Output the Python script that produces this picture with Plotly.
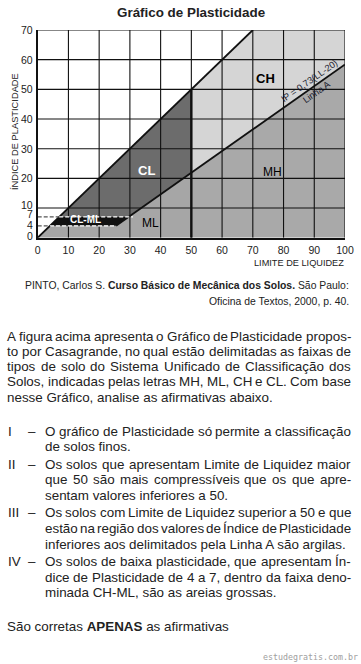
import plotly.graph_objects as go

W, H = 361, 664
FONT = "Liberation Sans, Arial, Helvetica, sans-serif"

# ---------------- data ----------------
ll_ticks = [0, 10, 20, 30, 40, 50, 60, 70, 80, 90, 100]
ip_ticks = [0, 4, 7, 10, 20, 30, 40, 50, 60, 70]
grid_ll = [10, 20, 30, 40, 50, 60, 70, 80, 90, 100]
grid_ip = [10, 20, 30, 40, 50, 60, 70]

# region polygons (LL, IP)
ch_ll = [50, 50, 70, 100, 100]
ch_ip = [21.9, 50, 70, 70, 58.4]
cl_ll = [7, 50, 50, 29.6]
cl_ip = [7, 50, 21.9, 7]
clml_ll = [4, 7, 29.6, 25.5]
clml_ip = [4, 7, 7, 4]
ml_ll = [0, 4, 25.5, 50, 50]
ml_ip = [0, 4, 4, 21.9, 0]
mh_ll = [50, 50, 100, 100]
mh_ip = [0, 21.9, 58.4, 0]

u_ll = [0, 70]
u_ip = [0, 70]
a_ll = [25.5, 100]
a_ip = [4, 58.4]
ll50_ll = [50, 50]
ll50_ip = [0, 50]

dash4_ll = [0, 4]
dash7_ll = [0, 7]
dash4w_ll = [4, 25.5]
dash7w_ll = [7, 31]

region_labels = [
    ("CH", 74.0, 53.5, "black", True, 13),
    ("MH", 76.5, 22.2, "black", False, 12),
    ("CL", 35.5, 22.8, "white", True, 13),
    ("ML", 36.8, 4.9, "black", False, 12),
    ("CL-ML", 15.7, 6.0, "white", True, 10),
]

title = "Gráfico de Plasticidade"
x_title = "LIMITE DE LIQUIDEZ"
y_title = "ÍNDICE DE PLASTICIDADE"
aline_text = "IP = 0,73(LL-20)"
aline_name = "Linha A"

citation = [
    "PINTO, Carlos S. <b>Curso Básico de Mecânica dos Solos.</b> São Paulo:",
    "Oficina de Textos, 2000, p. 40.",
]
paragraph = [
    "A figura acima apresenta o Gráfico de Plasticidade propos-",
    "to por Casagrande, no qual estão delimitadas as faixas de",
    "tipos de solo do Sistema Unificado de Classificação dos",
    "Solos, indicadas pelas letras MH, ML, CH e CL. Com base",
    "nesse Gráfico, analise as afirmativas abaixo.",
]
items = [
    ("I", ["O gráfico de Plasticidade só permite a classificação",
           "de solos finos."]),
    ("II", ["Os solos que apresentam Limite de Liquidez maior",
            "que 50 são mais compressíveis que os que apre-",
            "sentam valores inferiores a 50."]),
    ("III", ["Os solos com Limite de Liquidez superior a 50 e que",
             "estão na região dos valores de Índice de Plasticidade",
             "inferiores aos delimitados pela Linha A são argilas."]),
    ("IV", ["Os solos de baixa plasticidade, que apresentam Ín-",
            "dice de Plasticidade de 4 a 7, dentro da faixa deno-",
            "minada CH-ML, são as areias grossas."]),
]
closing = "São corretas <b>APENAS</b> as afirmativas"
watermark = "estudegratis.com.br"

# ---------------- layout constants (pixels) ----------------
PX0, PX1 = 37.7, 345.0
PY0, PY1 = 237.7, 30.0
BODY = 13.4
TEXT_L, ITEM_L, TEXT_R = 7, 45, 351
YLABEL_SHIFT = {0: 1.5, 4: 0.8, 7: 3.4, 10: 3.0}   # pixel nudges of crowded labels

# Arial / Liberation Sans advance widths (1/1000 em)
_AW = {' ': 278, ',': 278, '.': 278, '-': 333, ':': 278, '(': 333, ')': 333, '=': 584}
for c in '0123456789':
    _AW[c] = 556
_AW.update(dict(zip('ABCDEFGHIJKLMNOPQRSTUVWXYZ',
                    [667, 667, 722, 722, 667, 611, 778, 722, 278, 500, 667, 556, 833,
                     722, 778, 667, 778, 722, 667, 611, 722, 667, 944, 667, 667, 611])))
_AW.update(dict(zip('abcdefghijklmnopqrstuvwxyz',
                    [556, 556, 500, 556, 556, 278, 556, 556, 222, 222, 500, 222, 833,
                     556, 556, 556, 556, 333, 500, 278, 556, 500, 722, 500, 500, 500])))
_ACC = {'á': 'a', 'ã': 'a', 'â': 'a', 'à': 'a', 'é': 'e', 'ê': 'e', 'í': 'i', 'ó': 'o',
        'õ': 'o', 'ô': 'o', 'ú': 'u', 'ç': 'c', 'Í': 'I', 'Á': 'A', 'É': 'E'}


def text_width(s, size):
    return sum(_AW.get(_ACC.get(c, c), 556) for c in s) * size / 1000.0


def px(x):
    return x / W


def py(y):
    return 1 - y / H


fig = go.Figure()


def poly(xs, ys, color):
    fig.add_trace(go.Scatter(x=xs + xs[:1], y=ys + ys[:1], mode="lines", fill="toself",
                             fillcolor=color, line=dict(width=0), hoverinfo="skip",
                             showlegend=False))


poly(ch_ll, ch_ip, "#d5d5d5")
poly(mh_ll, mh_ip, "#a9a9a9")
poly(ml_ll, ml_ip, "#a6a6a6")
poly(cl_ll, cl_ip, "#6c6c6c")
poly(clml_ll, clml_ip, "#111111")

# grid lines
gx, gy = [], []
for v in grid_ll:
    gx += [v, v, None]
    gy += [0, 70, None]
for v in grid_ip:
    gx += [0, 100, None]
    gy += [v, v, None]
fig.add_trace(go.Scatter(x=gx, y=gy, mode="lines", line=dict(color="#111111", width=1.1),
                         hoverinfo="skip", showlegend=False))


def line(xs, ys, color, width, dash="solid"):
    fig.add_trace(go.Scatter(x=xs, y=ys, mode="lines",
                             line=dict(color=color, width=width, dash=dash),
                             hoverinfo="skip", showlegend=False))


line(u_ll, u_ip, "#111111", 1.8)
line(a_ll, a_ip, "#111111", 1.8)
line(ll50_ll, ll50_ip, "#111111", 2.4)
line(dash4_ll, [4, 4], "#555555", 1.2, "4px,2px")
line(dash7_ll, [7, 7], "#555555", 1.2, "4px,2px")
line(dash4w_ll, [4, 4], "#ffffff", 1.2, "4px,2px")
line(dash7w_ll, [7, 7], "#ffffff", 1.2, "4px,2px")

ann = []


def A(**kw):
    kw.setdefault("showarrow", False)
    kw.setdefault("borderpad", 0)
    kw.setdefault("borderwidth", 0)
    kw.setdefault("xanchor", "center")
    kw.setdefault("yanchor", "middle")
    ann.append(kw)


# y tick labels (placed on the y scale, crowded low ones nudged apart)
for v in ip_ticks:
    A(x=px(33.3), y=v, xref="paper", yref="y", text=str(v), xanchor="right",
      yshift=YLABEL_SHIFT.get(v, 0), font=dict(family=FONT, size=10.5, color="#222"))

for txt, x, y, col, bold, size in region_labels:
    A(x=x, y=y, xref="x", yref="y", text=f"<b>{txt}</b>" if bold else txt,
      font=dict(family=FONT, size=size, color=col))
A(x=88.4, y=52.9, xref="x", yref="y", text=aline_text, textangle=-35,
  font=dict(family=FONT, size=9.2, color="#1a1a2e"))
A(x=90.8, y=49.2, xref="x", yref="y", text=aline_name, textangle=-35,
  font=dict(family=FONT, size=9.2, color="#1a1a2e"))

# title and axis titles
A(x=px(191), y=py(12), xref="paper", yref="paper", text=f"<b>{title}</b>",
  font=dict(family=FONT, size=13.4, color="#222"))
A(x=px(344), y=py(263), xref="paper", yref="paper", text=x_title, xanchor="right",
  font=dict(family=FONT, size=9.2, color="#222"))
A(x=px(15), y=py(132), xref="paper", yref="paper", text=y_title, textangle=-90,
  font=dict(family=FONT, size=9.3, color="#222"))

# citation
for t, yy in zip(citation, [285, 301.7]):
    A(x=px(348.5), y=py(yy), xref="paper", yref="paper", text=t, xanchor="right",
      font=dict(family=FONT, size=10.4, color="#222"))


def put_line(t, x0, yy, justify):
    words = t.split(" ")
    if not justify or len(words) < 2:
        A(x=px(x0), y=py(yy), xref="paper", yref="paper", text=t, xanchor="left",
          font=dict(family=FONT, size=BODY, color="#222"))
        return
    widths = [text_width(w, BODY) for w in words]
    gap = (TEXT_R - x0 - sum(widths)) / (len(words) - 1)
    x = x0
    for i, (w, ww) in enumerate(zip(words, widths)):
        if i == len(words) - 1:
            A(x=px(TEXT_R), y=py(yy), xref="paper", yref="paper", text=w, xanchor="right",
              font=dict(family=FONT, size=BODY, color="#222"))
        else:
            A(x=px(x), y=py(yy), xref="paper", yref="paper", text=w, xanchor="left",
              font=dict(family=FONT, size=BODY, color="#222"))
        x += ww + gap


# paragraph
para_ys = [336, 351.2, 366.4, 381.6, 397]
for i, (t, yy) in enumerate(zip(paragraph, para_ys)):
    put_line(t, TEXT_L, yy, i < len(paragraph) - 1)

item_ys = [[431.7, 446.5], [464, 479.3, 495], [512.5, 528.3, 544], [561.7, 577.3, 592.7]]
for (num, lines), ys in zip(items, item_ys):
    A(x=px(8), y=py(ys[0]), xref="paper", yref="paper", text=num, xanchor="left",
      font=dict(family=FONT, size=BODY, color="#222"))
    A(x=px(31.5), y=py(ys[0]), xref="paper", yref="paper", text="–", xanchor="center",
      font=dict(family=FONT, size=BODY, color="#222"))
    for j, (t, yy) in enumerate(zip(lines, ys)):
        put_line(t, ITEM_L, yy, j < len(lines) - 1)

A(x=px(7), y=py(626), xref="paper", yref="paper", text=closing, xanchor="left",
  font=dict(family=FONT, size=BODY, color="#222"))
A(x=px(358), y=py(657), xref="paper", yref="paper", text=watermark, xanchor="right",
  font=dict(family="DejaVu Sans Mono, monospace", size=8.3, color="#a0a0a0"))

fig.update_layout(
    width=W, height=H,
    margin=dict(l=0, r=0, t=0, b=0, autoexpand=False),
    paper_bgcolor="white", plot_bgcolor="white",
    showlegend=False,
    annotations=ann,
    xaxis=dict(domain=[px(PX0), px(PX1)], range=[0, 100], tickvals=ll_ticks,
               ticktext=[str(v) for v in ll_ticks], showgrid=False, zeroline=False,
               showline=True, linecolor="#111", linewidth=1.5, ticks="", automargin=False,
               ticklabelstandoff=2,
               tickfont=dict(family=FONT, size=10.5, color="#222"), fixedrange=True),
    yaxis=dict(domain=[py(PY0), py(PY1)], range=[0, 70], tickvals=ip_ticks,
               showticklabels=False, showgrid=False, zeroline=False,
               showline=True, linecolor="#111", linewidth=1.5, ticks="", automargin=False,
               fixedrange=True),
)

fig.write_html("out.html", config={"displayModeBar": False},
               post_script="document.body.style.margin='0';document.body.style.overflow='hidden';")
